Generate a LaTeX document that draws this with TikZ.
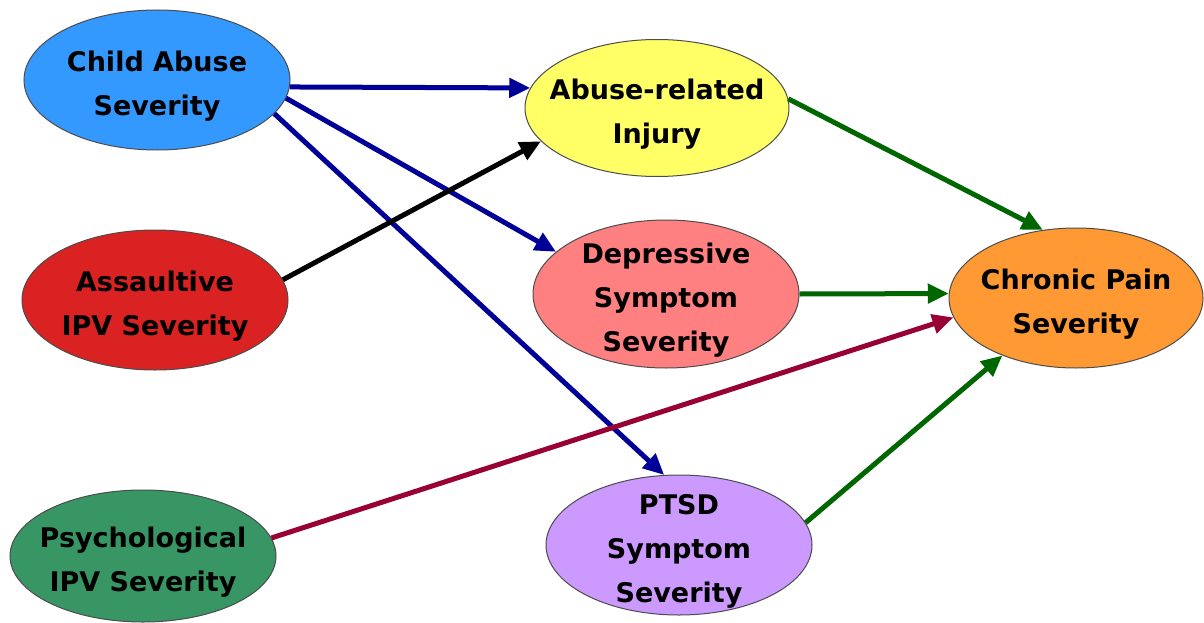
\documentclass[tikz,border=0pt]{standalone}
\usepackage{fontspec}
\setmainfont{DejaVu Sans}
\usepackage{tikz}
\usetikzlibrary{arrows.meta}
\usetikzlibrary{shapes.geometric}
\definecolor{childblue}{RGB}{51,153,255}
\definecolor{ipvred}{RGB}{218,34,34}
\definecolor{psygreen}{RGB}{56,150,100}
\definecolor{injyellow}{RGB}{255,255,102}
\definecolor{deppink}{RGB}{255,128,128}
\definecolor{ptsdlilac}{RGB}{204,153,255}
\definecolor{painorange}{RGB}{255,153,51}
\definecolor{linkblue}{RGB}{0,0,153}
\definecolor{linkgreen}{RGB}{0,102,0}
\definecolor{linkred}{RGB}{153,0,51}
\newcommand{\padtop}{\rule{0pt}{33pt}}
\tikzset{
  factor/.style={ellipse, draw=black!70, line width=1pt, inner xsep=-40pt, inner ysep=-20pt, align=center,
    minimum width=266pt, minimum height=140pt,
    font=\bfseries\fontsize{27}{44}\selectfont},
  link/.style={line width=5pt, -{Triangle[length=21pt,width=19pt]}}
}

\begin{document}
\begin{tikzpicture}[x=1pt, y=-1pt]
      \useasboundingbox (0, 0) rectangle (1204, 623);

      \node [factor, fill=childblue] (child) at (157, 80) {\padtop Child Abuse\\Severity};
      \node [factor, fill=ipvred] (assault) at (155, 300) {\padtop Assaultive\\IPV Severity};
      \node [factor, fill=psygreen, minimum height=132pt] (psych) at (143, 556) {\padtop Psychological\\IPV Severity};
      \node [factor, fill=injyellow, minimum width=264pt, minimum height=137pt] (injury) at (657, 108) {\padtop Abuse-related\\Injury};
      \node [factor, fill=deppink, minimum height=148pt] (depress) at (666, 294) {\padtop Depressive\\Symptom\\Severity};
      \node [factor, fill=ptsdlilac] (ptsd) at (679, 545) {\padtop PTSD\\Symptom\\Severity};
      \node [factor, fill=painorange, minimum width=254pt] (pain) at (1076, 298) {\padtop Chronic Pain\\Severity};

      \draw [link, linkblue] (child.-3) -- (injury.171);
      \draw [link, linkblue] (child.-8) -- (depress.159);
      \draw [link, linkblue] (child.-16) -- (ptsd.102);
      \draw [link, black] (assault.9) -- (injury.-164);
      \draw [link, linkred] (psych.8) -- (pain.-171);
      \draw [link, linkgreen] (injury.4) -- (pain.116);
      \draw [link, linkgreen] (depress.0) -- (pain.178);
      \draw [link, linkgreen] (ptsd.10) -- (pain.-142);
    \end{tikzpicture}
\end{document}
